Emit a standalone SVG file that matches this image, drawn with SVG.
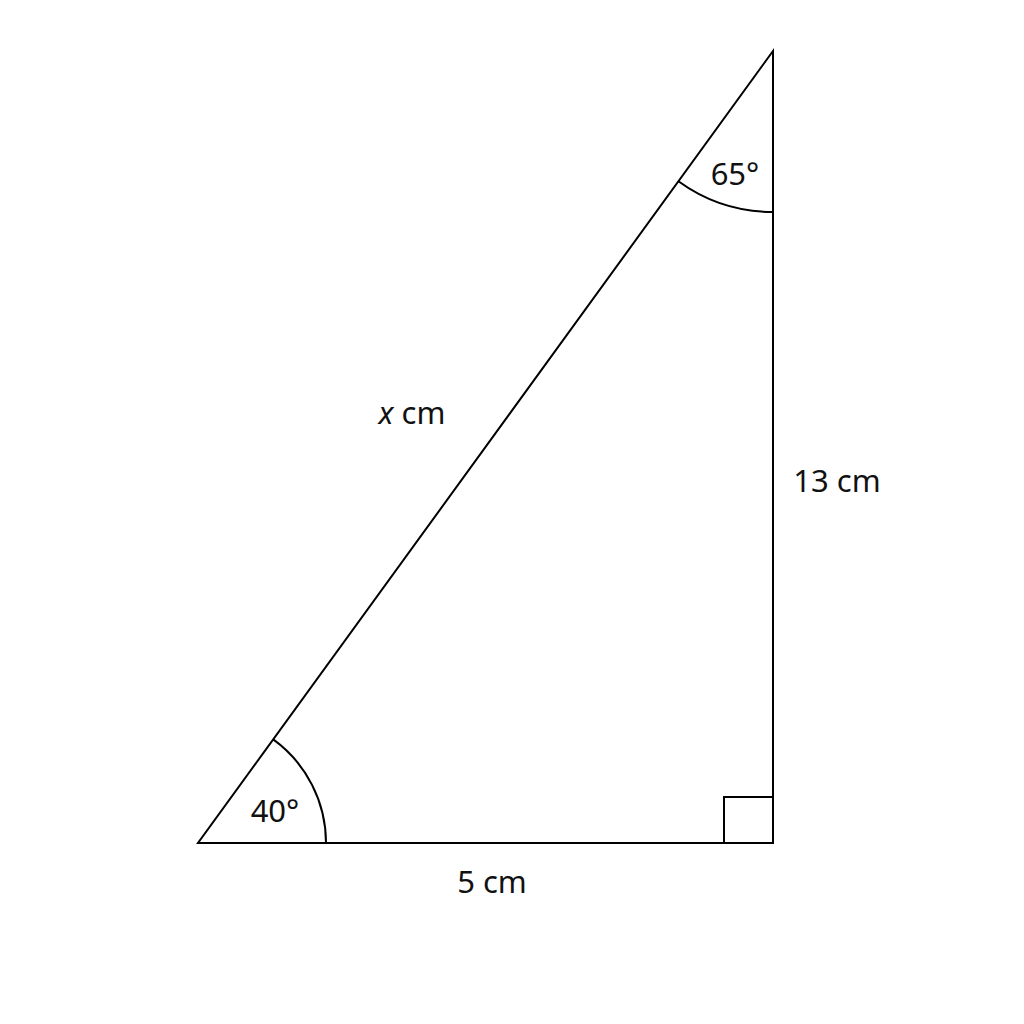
<svg xmlns="http://www.w3.org/2000/svg" width="1024" height="1024" viewBox="0 0 1024 1024">
<style>
.ln{fill:none;stroke:#000;stroke-width:2;stroke-linejoin:miter}
.t{font-family:"Noto Sans","Open Sans",sans-serif;font-size:31px;fill:#111}
</style>
<rect width="1024" height="1024" fill="#fff"/>
<g id="triangle">
<polygon class="ln" points="198,843 773,843 773,51"/>
</g>
<g id="marks">
<path class="ln" d="M326,843 A128,128 0 0 0 273.2,739.4"/>
<path class="ln" d="M678.4,181.3 A161,161 0 0 0 773,212"/>
<path class="ln" d="M724,843 V797 H773"/>
</g>
<g id="labels">
<text class="t" x="735" y="185" text-anchor="middle">65°</text>
<text class="t" x="275" y="822" text-anchor="middle">40°</text>
<text class="t" x="412" y="424" text-anchor="middle"><tspan font-style="italic">x</tspan> cm</text>
<text class="t" x="837" y="492" text-anchor="middle">13 cm</text>
<text class="t" x="492" y="893" text-anchor="middle">5 cm</text>
</g>
</svg>
